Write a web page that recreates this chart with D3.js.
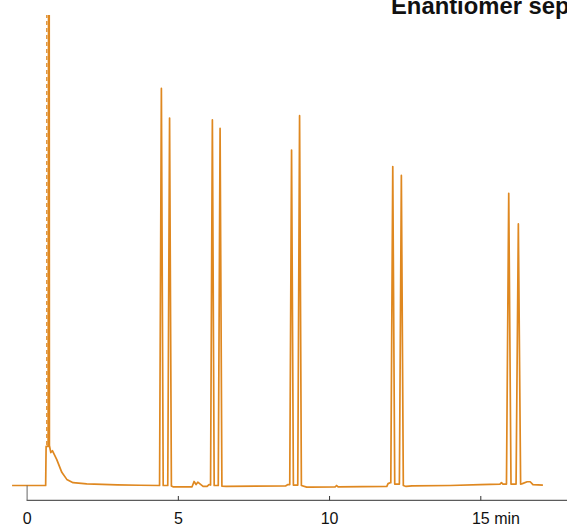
<!DOCTYPE html>
<html><head><meta charset="utf-8">
<script src="https://cdn.jsdelivr.net/npm/d3@7"></script>
<style>html,body{margin:0;padding:0;background:#fff;overflow:hidden}</style>
</head><body><svg id="c" width="567" height="526"></svg>
<script>
// ---- data ----
const title = "Enantiomer separation";
const traceTime = [
 -0.48, 0.630, 0.645, 0.712, 0.732, 0.745, 0.754, 0.800, 0.853, 0.998, 1.164, 1.329, 1.537, 1.990, 3.000, 3.752,
 4.396, 4.456, 4.516,
 4.667, 4.727, 4.787, 4.840, 5.470, 5.537, 5.603, 5.660, 5.835, 5.967, 6.030,
 6.082, 6.142, 6.202,
 6.337, 6.397, 6.457, 6.600, 8.560, 8.640,
 8.700, 8.760, 8.820,
 8.965, 9.025, 9.085, 9.260, 9.370, 10.200, 10.250, 10.300, 11.910, 11.950, 12.020,
 12.041, 12.106, 12.171,
 12.325, 12.390, 12.455, 12.545, 12.740, 14.000, 15.000, 15.650, 15.700, 15.750,
 15.865, 15.940, 16.015,
 16.183, 16.258, 16.333, 16.390, 16.550, 16.650, 16.740, 17.070
];
const traceSignal = [
 0, 0, 8.3, 8.3, 140, 140, 8.5, 7.0, 7.4, 5.5, 2.8, 1.3, 0.6, 0.35, 0.15, 0.05,
 0, 84.4, 0,
 0, 78.1, -0.1, -0.28, -0.28, 0.85, 0.2, 0.7, -0.2, -0.2, 0.2,
 0.1, 77.7, 0,
 0, 75.9, -0.15, -0.2, -0.1, 0.2,
 0.2, 71.3, 0.1,
 0.1, 78.6, 0, -0.35, -0.35, -0.3, 0, -0.3, -0.2, 0.4, 0.6,
 0.6, 67.8, 0.3,
 0.3, 65.9, 0, -0.2, -0.1, 0, 0.2, 0.3, 0.6, 0.3,
 0.3, 62.1, 0.3,
 0.3, 55.6, 0.3, 0.4, 0.8, 0.8, 0.2, 0.1
];
const voidMarkerTime = 0.668;
const voidMarkerRange = [8.6, 140];
const tickValues = [0, 5, 10, 15];
const tickLabels = ["0", "5", "10", "15"];
const axisUnit = "min";

// ---- drawing ----
const svg = d3.select("#c");
const W = 567, H = 526;
const x = d3.scaleLinear().domain([0, 15]).range([26.6, 480.3]);
const y = d3.scaleLinear().domain([0, 100]).range([485.5, 15]);
const orange = "#df8820";
const font = "'Liberation Sans', Arial, Helvetica, sans-serif";

svg.append("defs").append("clipPath").attr("id", "clip")
  .append("rect").attr("x", 0).attr("y", y(100)).attr("width", W).attr("height", H);

const plot = svg.append("g").attr("clip-path", "url(#clip)");

// dashed void-time marker
plot.append("line")
  .attr("x1", x(voidMarkerTime)).attr("x2", x(voidMarkerTime))
  .attr("y1", y(voidMarkerRange[0])).attr("y2", y(voidMarkerRange[1]))
  .attr("stroke", orange).attr("stroke-width", 1.3).attr("stroke-dasharray", "4,3");

const pts = traceTime.map((t, i) => [t, traceSignal[i]]);
const line = d3.line().x(d => x(d[0])).y(d => y(d[1]));
plot.append("path").datum(pts)
  .attr("d", line)
  .attr("fill", "none").attr("stroke", orange)
  .attr("stroke-width", 1.7).attr("stroke-linejoin", "round");

// x axis
const axisY = 500.3;
svg.append("line").attr("x1", x(0)).attr("x2", W + 5).attr("y1", axisY).attr("y2", axisY)
  .attr("stroke", "#333").attr("stroke-width", 1);
const axis = d3.axisBottom(x).tickValues(tickValues)
  .tickFormat((d, i) => tickLabels[i]).tickSizeInner(-4.3).tickSizeOuter(0).tickPadding(12.6);
const ag = svg.append("g").attr("transform", `translate(0,${axisY})`).call(axis);
ag.select(".domain").remove();
ag.selectAll(".tick line").attr("stroke", "#333");
ag.selectAll(".tick text").attr("font-family", font).attr("font-size", 16).attr("fill", "#111");
// longer tick at zero
ag.selectAll(".tick").filter(d => d === 0).select("line").attr("y2", y(0) - axisY).attr("stroke", "#666");
// unit after last label
const lastTick = ag.selectAll(".tick").filter(d => d === tickValues[tickValues.length - 1]);
const lt = lastTick.select("text");
const w = lt.node().getComputedTextLength();
lastTick.append("text").text(axisUnit)
  .attr("x", w / 2 + 4.5).attr("y", lt.attr("y")).attr("dy", lt.attr("dy"))
  .attr("text-anchor", "start").attr("fill", "#111")
  .attr("font-family", font).attr("font-size", 16);

// title (cut off at right edge as in the reference)
svg.append("text").text(title)
  .attr("x", 391).attr("y", 13.5)
  .attr("font-family", font).attr("font-weight", "bold").attr("font-size", 23.8)
  .attr("fill", "#111");
</script></body></html>
